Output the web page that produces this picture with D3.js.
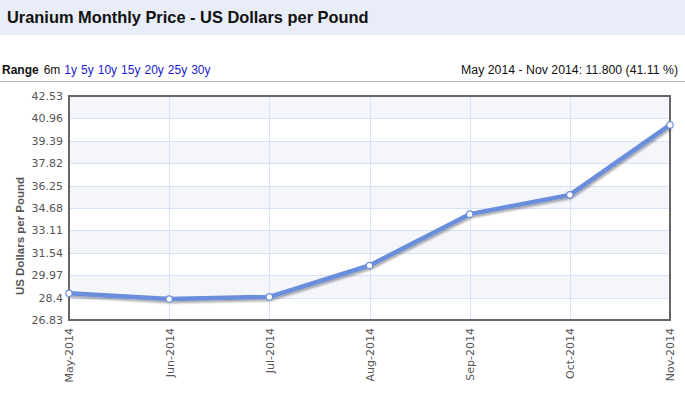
<!DOCTYPE html>
<html><head><meta charset="utf-8">
<script src="https://cdn.jsdelivr.net/npm/d3@7"></script>
<style>body{margin:0;background:#fff;}svg{display:block;}</style>
</head><body>
<script>
const months = ["May-2014","Jun-2014","Jul-2014","Aug-2014","Sep-2014","Oct-2014","Nov-2014"];
const prices = [28.70, 28.30, 28.45, 30.65, 34.25, 35.60, 40.50];
const yTicks = [26.83, 28.4, 29.97, 31.54, 33.11, 34.68, 36.25, 37.82, 39.39, 40.96, 42.53];
const rangeLinks = ["6m","1y","5y","10y","15y","20y","25y","30y"];
const titleText = "Uranium Monthly Price - US Dollars per Pound";
const summaryText = "May 2014 - Nov 2014: 11.800 (41.11 %)";
const yTitle = "US Dollars per Pound";

const W = 685, H = 393;
const svg = d3.select("body").append("svg").attr("width", W).attr("height", H);

// header
svg.append("rect").attr("x",0).attr("y",0).attr("width",W).attr("height",35).attr("fill","#e8edf8");
svg.append("text").attr("x",7).attr("y",23).text(titleText)
  .attr("font-family","Liberation Sans, Arial, sans-serif").attr("font-weight","bold").attr("font-size",16.4).attr("fill","#111");

// range row
const rr = svg.append("text").attr("x",2).attr("y",74)
  .attr("font-family","Liberation Sans, Arial, sans-serif").attr("font-size",12);
rr.append("tspan").text("Range").attr("font-weight","bold").attr("fill","#111");
rangeLinks.forEach((r,i)=>{
  rr.append("tspan").attr("dx", i===0?5:4).text(r).attr("fill", i===0?"#111":"#2020d0");
});
svg.append("text").attr("x",678).attr("y",74).attr("text-anchor","end").text(summaryText)
  .attr("font-family","Liberation Sans, Arial, sans-serif").attr("font-size",12.3).attr("fill","#111");
svg.append("line").attr("x1",0).attr("x2",W).attr("y1",81.5).attr("y2",81.5).attr("stroke","#bbb").attr("stroke-width",1);

// scales
const x0 = 69, x1 = 670, yTop = 96, yBot = 320;
const x = d3.scalePoint().domain(months).range([x0, x1]);
const y = d3.scaleLinear().domain([yTicks[0], yTicks[yTicks.length-1]]).range([yBot, yTop]);

// bands
const g = svg.append("g");
for (let i=0;i<yTicks.length-1;i++){
  g.append("rect").attr("x",x0).attr("width",x1-x0)
    .attr("y",y(yTicks[i+1])).attr("height",y(yTicks[i])-y(yTicks[i+1]))
    .attr("fill", i%2===1 ? "#f4f6fc" : "#ffffff");
}
// grid
g.selectAll(".hg").data(yTicks).enter().append("line")
  .attr("x1",x0).attr("x2",x1).attr("y1",d=>Math.round(y(d))+0.5).attr("y2",d=>Math.round(y(d))+0.5)
  .attr("stroke","#d6e2f8").attr("stroke-width",1);
g.selectAll(".vg").data(months).enter().append("line")
  .attr("y1",yTop).attr("y2",yBot).attr("x1",d=>Math.round(x(d))+0.5).attr("x2",d=>Math.round(x(d))+0.5)
  .attr("stroke","#d6e2f8").attr("stroke-width",1);

// frame
svg.append("rect").attr("x",x0).attr("y",yTop).attr("width",x1-x0).attr("height",yBot-yTop)
  .attr("fill","none").attr("stroke","#666").attr("stroke-width",2);

// y axis
const yAxis = d3.axisLeft(y).tickValues(yTicks).tickSize(0).tickPadding(5).tickFormat(d=>String(d));
const ya = svg.append("g").attr("transform",`translate(${x0-1},0)`).call(yAxis);
ya.select(".domain").remove();
ya.selectAll("text").attr("font-family","DejaVu Sans, Verdana, sans-serif").attr("font-size",11).attr("fill","#555");

// x axis
const xAxis = d3.axisBottom(x).tickSize(0).tickPadding(0);
const xa = svg.append("g").attr("transform",`translate(0,${yBot+1})`).call(xAxis);
xa.select(".domain").remove();
xa.selectAll("text").attr("font-family","DejaVu Sans, Verdana, sans-serif").attr("font-size",11).attr("fill","#555")
  .attr("text-anchor","end").attr("transform","rotate(-90)").attr("x",-7).attr("y",0).attr("dy","0.35em");

// y title
svg.append("text").attr("transform",`translate(24,${(yTop+yBot)/2+28}) rotate(-90)`).attr("text-anchor","middle")
  .text(yTitle).attr("font-family","Liberation Sans, Arial, sans-serif").attr("font-weight","bold")
  .attr("font-size",11.5).attr("fill","#555");

// line
const defs = svg.append("defs");
const f = defs.append("filter").attr("id","sh").attr("x","-10%").attr("y","-10%").attr("width","120%").attr("height","140%");
f.append("feGaussianBlur").attr("in","SourceAlpha").attr("stdDeviation",1.2).attr("result","b");
f.append("feOffset").attr("in","b").attr("dx",1).attr("dy",2).attr("result","o");
f.append("feComponentTransfer").attr("in","o").attr("result","o2").append("feFuncA").attr("type","linear").attr("slope",0.35);
const fm = f.append("feMerge"); fm.append("feMergeNode").attr("in","o2"); fm.append("feMergeNode").attr("in","SourceGraphic");

const data = months.map((m,i)=>({m, v:prices[i]}));
svg.append("path").datum(data)
  .attr("d", d3.line().x(d=>x(d.m)).y(d=>y(d.v)))
  .attr("fill","none").attr("stroke","#6b8edb").attr("stroke-width",4.5).attr("stroke-linejoin","round")
  .attr("filter","url(#sh)");
svg.selectAll(".pt").data(data).enter().append("circle")
  .attr("cx",d=>x(d.m)).attr("cy",d=>y(d.v)).attr("r",3.2)
  .attr("fill","#fff").attr("stroke","#6b8edb").attr("stroke-width",1.2);
</script>
</body></html>
